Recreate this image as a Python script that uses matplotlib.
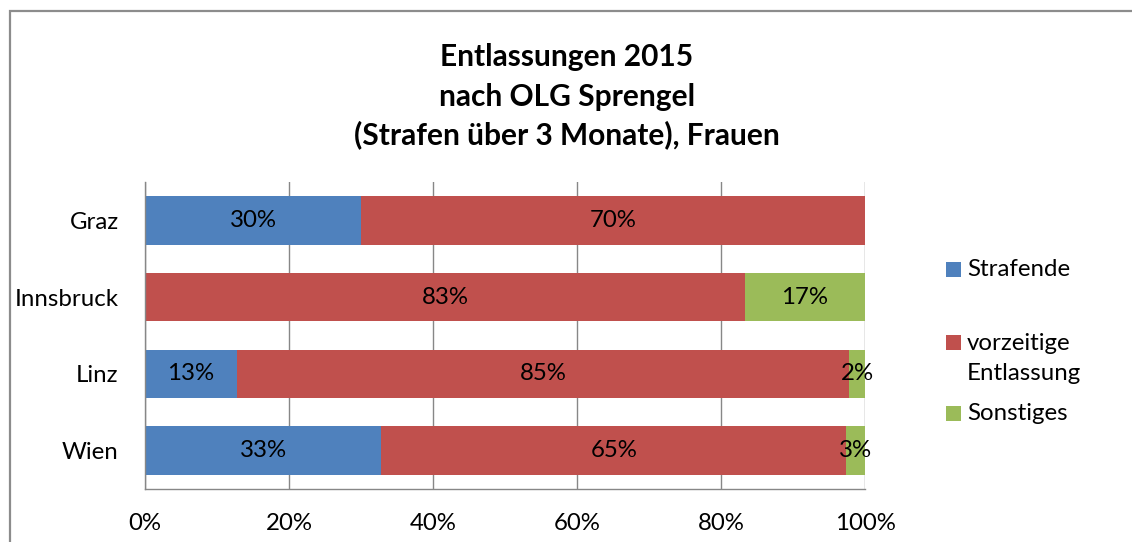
import matplotlib
matplotlib.use("Agg")
import matplotlib.pyplot as plt
from matplotlib.patches import Rectangle

plt.rcParams["font.family"] = ["Lato", "DejaVu Sans"]

# Shares per court district (percent of releases)
districts = ["Graz", "Innsbruck", "Linz", "Wien"]
series_names = ["Strafende", "vorzeitige", "Sonstiges"]
series_names_2nd_line = ["", "Entlassung", ""]
strafende = [30.0, 0.0, 12.8, 32.8]
vorzeitig = [70.0, 83.3, 85.0, 64.6]
sonstiges = [0.0, 16.7, 2.2, 2.6]
x_ticks = [0, 20, 40, 60, 80, 100]
x_tick_labels = ["0%", "20%", "40%", "60%", "80%", "100%"]
title_lines = ["Entlassungen 2015", "nach OLG Sprengel",
               "(Strafen über 3 Monate), Frauen"]

colors = ["#4F81BD", "#C0504D", "#9BBB59"]
grid_color = "#878787"
FS = 17.3

W, H = 1132, 542
fig = plt.figure(figsize=(W / 100, H / 100), dpi=100)
fig.patch.set_facecolor("white")

# outer chart frame (runs off the right and bottom edge)
fig.add_artist(Rectangle((10 / W, -0.1), 1.2, 1 - 11 / H + 0.1,
                         transform=fig.transFigure, fill=False,
                         edgecolor="#8C8C8C", linewidth=1.6))

ax = fig.add_axes([145 / W, 1 - 489 / H, 720 / W, 307 / H])

series = [strafende, vorzeitig, sonstiges]
ypos = list(range(len(districts)))
left = [0.0] * len(districts)
for vals, color in zip(series, colors):
    ax.barh(ypos, vals, left=left, height=0.635, color=color, zorder=2)
    for y, l, v in zip(ypos, left, vals):
        if v > 0:
            ax.text(l + v / 2, y, f"{v:.0f}%", ha="center", va="center",
                    fontsize=FS, color="black", zorder=3)
    left = [a + b for a, b in zip(left, vals)]

ax.set_xlim(0, 100)
ax.set_ylim(len(districts) - 0.5, -0.5)
ax.set_yticks(ypos)
ax.set_yticklabels(districts, fontsize=FS)
ax.set_xticks(x_ticks)
ax.set_xticklabels(x_tick_labels, fontsize=FS)
ax.tick_params(axis="both", length=0)
ax.tick_params(axis="x", pad=17.5)
ax.tick_params(axis="y", pad=19)
ax.xaxis.grid(True, color=grid_color, linewidth=1.0, zorder=0)
ax.set_axisbelow(True)
for side in ["top", "right"]:
    ax.spines[side].set_visible(False)
for side in ["left", "bottom"]:
    ax.spines[side].set_color(grid_color)
    ax.spines[side].set_linewidth(1.0)

# three-line bold title
for line, y in zip(title_lines, [57, 97, 135]):
    fig.text(567 / W, 1 - y / H, line, ha="center", va="center",
             fontsize=21.5, fontweight="bold")

# legend
legend_y = [270, 343, 414]
for name, name2, color, y in zip(series_names, series_names_2nd_line,
                                 colors, legend_y):
    fig.add_artist(Rectangle((946 / W, 1 - (y + 7) / H), 15 / W, 15 / H,
                             transform=fig.transFigure, facecolor=color,
                             edgecolor="none"))
    fig.text(967 / W, 1 - y / H, name, ha="left", va="center", fontsize=FS)
    if name2:
        fig.text(967 / W, 1 - (y + 30) / H, name2, ha="left", va="center",
                 fontsize=FS)

fig.savefig("out.png", dpi=100)
